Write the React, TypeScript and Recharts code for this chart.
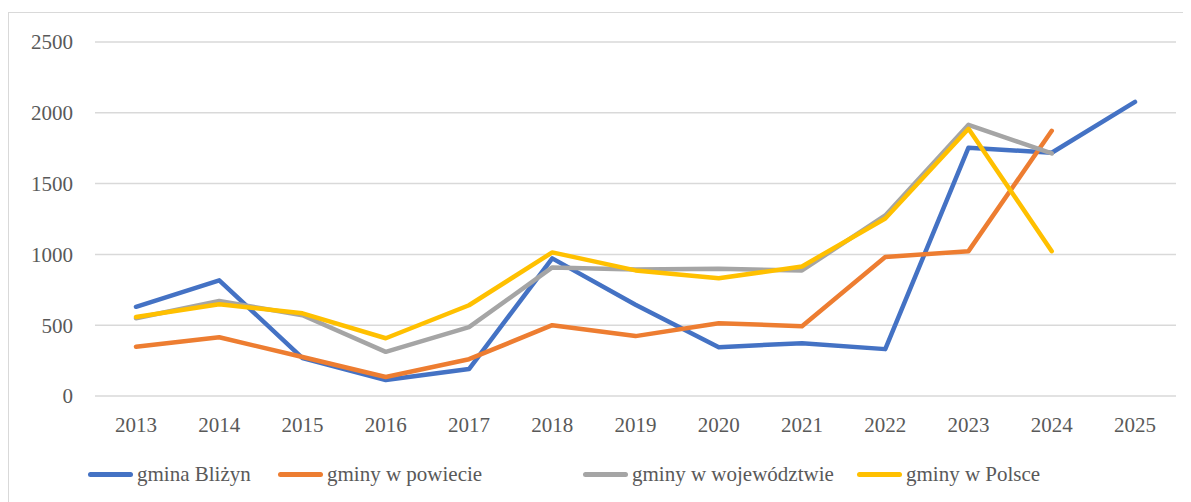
import { CartesianGrid, Legend, Line, LineChart, XAxis, YAxis } from "recharts";

const years = ["2013", "2014", "2015", "2016", "2017", "2018", "2019", "2020", "2021", "2022", "2023", "2024", "2025"];
const blizyn = [630, 817, 268, 113, 190, 972, 645, 345, 373, 331, 1754, 1718, 2077];
const powiat = [348, 415, 275, 134, 260, 500, 423, 514, 493, 981, 1023, 1873, null];
const wojewodztwo = [549, 671, 570, 312, 486, 908, 894, 898, 887, 1275, 1915, 1713, null];
const polska = [558, 648, 584, 408, 641, 1014, 887, 831, 915, 1254, 1887, 1023, null];
const yTicks = [0, 500, 1000, 1500, 2000, 2500];

const series = [
  { key: "blizyn", name: "gmina Bliżyn", color: "#4472C4", width: 190 },
  { key: "powiat", name: "gminy w powiecie", color: "#ED7D31", width: 305 },
  { key: "wojewodztwo", name: "gminy w województwie", color: "#A5A5A5", width: 274 },
  { key: "polska", name: "gminy w Polsce", color: "#FFC000", width: 250 },
];

const data = years.map((year, i) => ({
  year,
  blizyn: blizyn[i],
  powiat: powiat[i],
  wojewodztwo: wojewodztwo[i],
  polska: polska[i],
}));

const font = "'Liberation Serif', 'Times New Roman', serif";
const textColor = "#595959";

function ChartLegend() {
  return (
    <div style={{ height: 40, display: "flex", paddingLeft: 79, fontFamily: font, fontSize: 21, color: textColor }}>
      {series.map((s) => (
        <div key={s.key} style={{ width: s.width, display: "flex", alignItems: "center", height: 22 }}>
          <span style={{ display: "inline-block", width: 45, height: 5, borderRadius: 3, background: s.color, marginRight: 4 }} />
          <span style={{ whiteSpace: "nowrap" }}>{s.name}</span>
        </div>
      ))}
    </div>
  );
}

export default function App() {
  return (
    <div style={{ marginTop: 4, width: 1180, height: 500, border: "1px solid #D9D9D9", boxSizing: "border-box", background: "#fff", fontFamily: font }}>
      <LineChart width={1178} height={490} data={data} margin={{ top: 29, right: 11, left: 0, bottom: 0 }} style={{ fontFamily: font }}>
        <CartesianGrid vertical={false} stroke="#D9D9D9" strokeWidth={1.5} />
        <XAxis
          dataKey="year"
          axisLine={false}
          tickLine={false}
          tickMargin={15}
          height={67}
          padding={{ left: 41, right: 41 }}
          interval={0}
          tick={{ fontSize: 21, fill: textColor, fontFamily: font }}
        />
        <YAxis
          domain={[0, 2500]}
          ticks={yTicks}
          width={86}
          axisLine={false}
          tickLine={false}
          tickMargin={16}
          tick={{ fontSize: 21, fill: textColor, fontFamily: font }}
        />
        <Legend verticalAlign="bottom" content={() => <ChartLegend />} />
        {series.map((s) => (
          <Line
            key={s.key}
            type="linear"
            dataKey={s.key}
            name={s.name}
            stroke={s.color}
            strokeWidth={4.5}
            strokeLinecap="round"
            strokeLinejoin="round"
            dot={false}
            activeDot={false}
            connectNulls={false}
            isAnimationActive={false}
          />
        ))}
      </LineChart>
    </div>
  );
}
